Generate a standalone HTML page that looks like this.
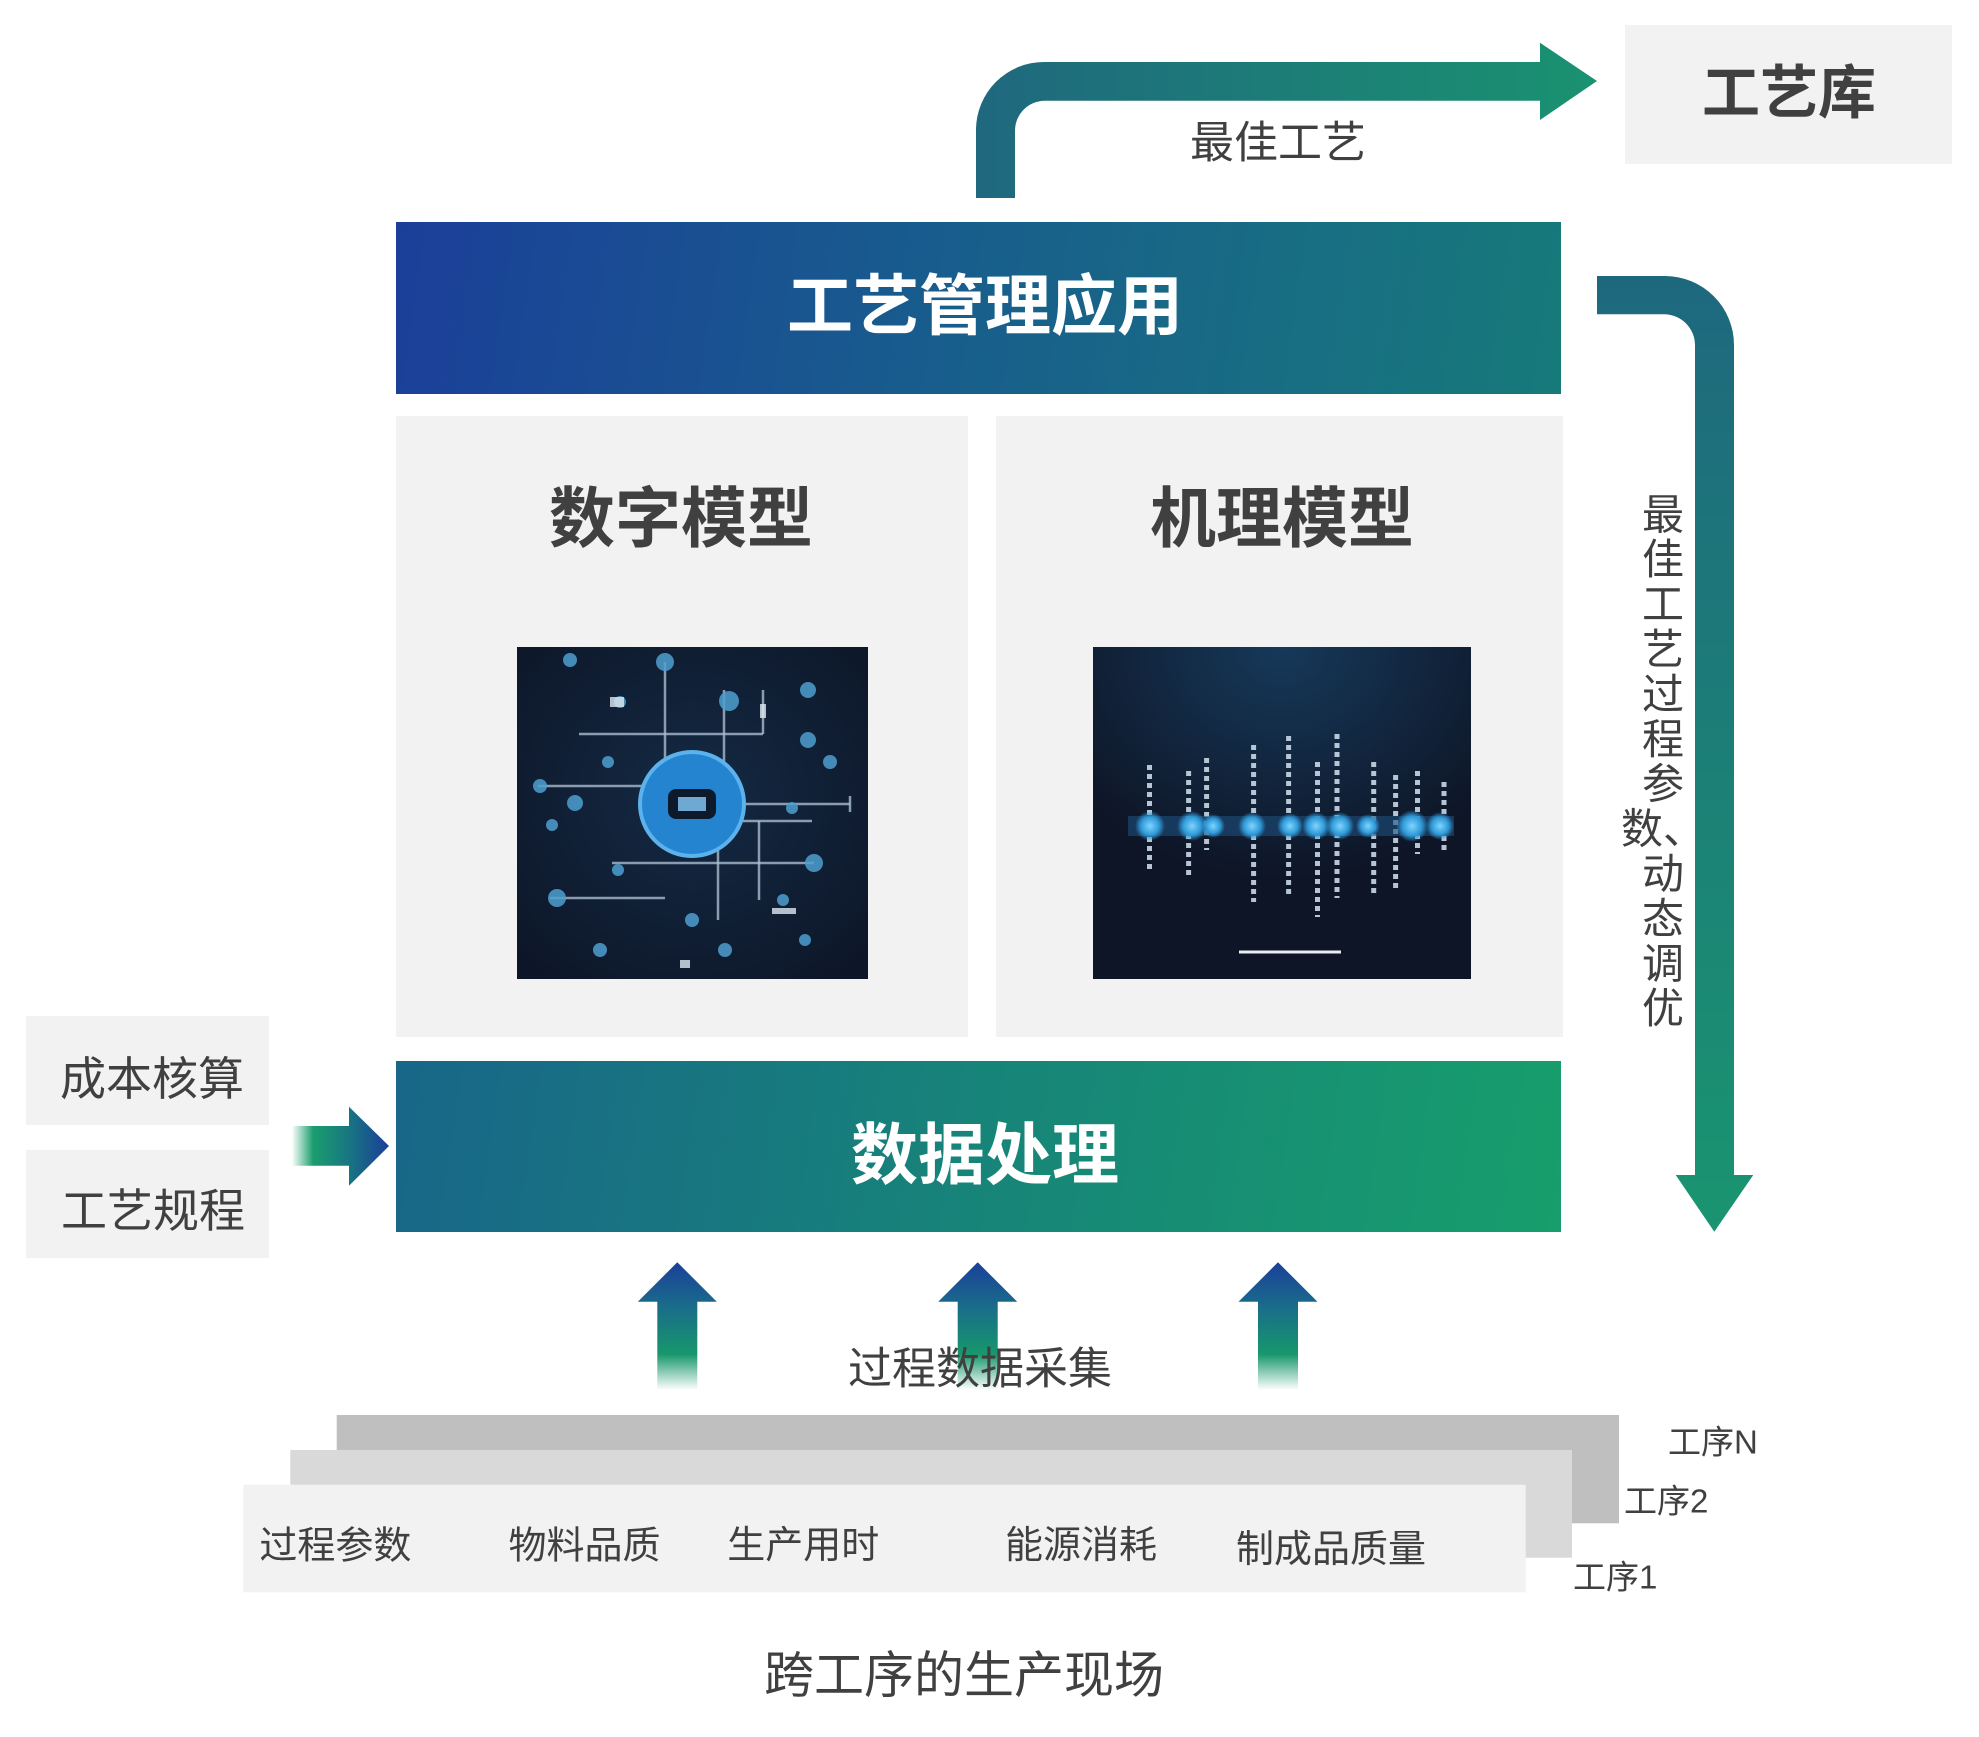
<!DOCTYPE html>
<html>
<head>
<meta charset="utf-8">
<style>
html,body{margin:0;padding:0;background:#fff;}
body{width:1979px;height:1737px;overflow:hidden;}
svg{display:block;}
text{font-family:"Liberation Sans","Noto Sans CJK SC",sans-serif;fill:#404040;}
.b{font-weight:700;}
</style>
</head>
<body>
<svg width="1979" height="1737" viewBox="0 0 1979 1737" xmlns="http://www.w3.org/2000/svg">
<defs>
  <linearGradient id="gTop" gradientUnits="userSpaceOnUse" x1="396" y1="222" x2="1561" y2="394">
    <stop offset="0" stop-color="#1b3f99"/>
    <stop offset="0.5" stop-color="#185f8c"/>
    <stop offset="1" stop-color="#177a7a"/>
  </linearGradient>
  <linearGradient id="gData" gradientUnits="userSpaceOnUse" x1="396" y1="1061" x2="1561" y2="1232">
    <stop offset="0" stop-color="#186688"/>
    <stop offset="0.5" stop-color="#178479"/>
    <stop offset="1" stop-color="#179e6c"/>
  </linearGradient>
  <linearGradient id="gArrTop" gradientUnits="userSpaceOnUse" x1="976" y1="0" x2="1597" y2="0">
    <stop offset="0" stop-color="#1f687e"/>
    <stop offset="1" stop-color="#1a9270"/>
  </linearGradient>
  <linearGradient id="gArrRight" gradientUnits="userSpaceOnUse" x1="0" y1="276" x2="0" y2="1232">
    <stop offset="0" stop-color="#1e687e"/>
    <stop offset="1" stop-color="#1a9570"/>
  </linearGradient>
  <linearGradient id="gArrLeft" gradientUnits="userSpaceOnUse" x1="291.7" y1="0" x2="389" y2="0">
    <stop offset="0" stop-color="#1aa06c" stop-opacity="0"/>
    <stop offset="0.22" stop-color="#1a9e6e"/>
    <stop offset="0.6" stop-color="#187482"/>
    <stop offset="1" stop-color="#1b3e9a"/>
  </linearGradient>
  <linearGradient id="gUp" gradientUnits="userSpaceOnUse" x1="0" y1="1262" x2="0" y2="1390">
    <stop offset="0" stop-color="#1b3f9a"/>
    <stop offset="0.35" stop-color="#196c8a"/>
    <stop offset="0.72" stop-color="#18976c"/>
    <stop offset="1" stop-color="#18976c" stop-opacity="0"/>
  </linearGradient>
  <radialGradient id="gGlow" cx="0.5" cy="0" r="0.7">
    <stop offset="0" stop-color="#16395a"/>
    <stop offset="1" stop-color="#0e1526"/>
  </radialGradient>
  <radialGradient id="gGlowL" cx="0.5" cy="0.45" r="0.7">
    <stop offset="0" stop-color="#142a44"/>
    <stop offset="1" stop-color="#0d1628"/>
  </radialGradient>
  <radialGradient id="gDot" cx="0.5" cy="0.5" r="0.5">
    <stop offset="0" stop-color="#7fd4ff"/>
    <stop offset="0.6" stop-color="#2f9ad8"/>
    <stop offset="1" stop-color="#2f9ad8" stop-opacity="0"/>
  </radialGradient>
</defs>

<!-- 工艺库 box -->
<rect x="1625" y="25" width="327" height="139" fill="#f2f2f2"/>
<text x="1789" y="113" font-size="58" text-anchor="middle" class="b">工艺库</text>

<!-- top bent arrow -->
<path d="M 976 198 L 976 130 A 68 68 0 0 1 1044 62 L 1540 62 L 1540 42.7 L 1597 81 L 1540 120 L 1540 100.7 L 1045 100.7 A 30 30 0 0 0 1015 130.7 L 1015 198 Z" fill="url(#gArrTop)"/>
<text x="1278" y="157.5" font-size="44" text-anchor="middle">最佳工艺</text>

<!-- 工艺管理应用 -->
<rect x="396" y="222" width="1165" height="172" fill="url(#gTop)"/>
<text x="985" y="329" font-size="66" text-anchor="middle" class="b" style="fill:#fff">工艺管理应用</text>

<!-- right bent arrow -->
<path d="M 1597 276 L 1665 276 A 69 69 0 0 1 1734 345 L 1734 1175 L 1753.3 1175 L 1714.3 1231.7 L 1675.7 1175 L 1695 1175 L 1695 345.3 A 31 31 0 0 0 1664 314.3 L 1597 314.3 Z" fill="url(#gArrRight)"/>

<!-- vertical text -->
<g font-size="42" text-anchor="middle">
  <text x="1663" y="529.3">最</text>
  <text x="1663" y="574.2">佳</text>
  <text x="1663" y="619.1">工</text>
  <text x="1663" y="664">艺</text>
  <text x="1663" y="708.9">过</text>
  <text x="1663" y="753.8">程</text>
  <text x="1663" y="798.7">参</text>
  <text x="1663" y="843.6">数、</text>
  <text x="1663" y="888.5">动</text>
  <text x="1663" y="933.4">态</text>
  <text x="1663" y="978.3">调</text>
  <text x="1663" y="1023.2">优</text>
</g>

<!-- model boxes -->
<rect x="396" y="416" width="572" height="621" fill="#f2f2f2"/>
<rect x="996" y="416" width="567" height="621" fill="#f2f2f2"/>
<text x="681" y="541.6" font-size="66" text-anchor="middle" class="b">数字模型</text>
<text x="1282" y="541.6" font-size="66" text-anchor="middle" class="b">机理模型</text>

<!-- left image (digital model) -->
<g>
  <rect x="517" y="647" width="351" height="332" fill="url(#gGlowL)"/>
  <g stroke="#a9bccd" stroke-width="2.5" stroke-opacity="0.8" fill="none">
    <line x1="665" y1="662" x2="665" y2="770"/>
    <line x1="579" y1="734" x2="763" y2="734"/>
    <line x1="724" y1="690" x2="724" y2="780"/>
    <line x1="763" y1="690" x2="763" y2="734"/>
    <line x1="538" y1="786" x2="642" y2="786"/>
    <line x1="740" y1="804" x2="850" y2="804"/>
    <line x1="850" y1="796" x2="850" y2="812"/>
    <line x1="740" y1="821" x2="812" y2="821"/>
    <line x1="612" y1="863" x2="814" y2="863"/>
    <line x1="759" y1="821" x2="759" y2="900"/>
    <line x1="550" y1="898" x2="665" y2="898"/>
    <line x1="718" y1="850" x2="718" y2="920"/>
  </g>
  <circle cx="692" cy="804" r="52" fill="#2584cf" stroke="#5cb2ec" stroke-width="4"/>
  <rect x="668" y="789" width="48" height="30" rx="8" fill="#0d1a2c"/>
  <rect x="678" y="797" width="28" height="14" fill="#6fa9d3"/>
  <g fill="#4e9fd0" fill-opacity="0.85">
    <circle cx="570" cy="660" r="7"/><circle cx="665" cy="662" r="9"/><circle cx="729" cy="701" r="10"/>
    <circle cx="808" cy="690" r="8"/><circle cx="808" cy="740" r="8"/><circle cx="830" cy="762" r="7"/>
    <circle cx="540" cy="786" r="7"/><circle cx="575" cy="803" r="8"/><circle cx="552" cy="825" r="6"/>
    <circle cx="814" cy="863" r="9"/><circle cx="557" cy="898" r="9"/><circle cx="618" cy="870" r="6"/>
    <circle cx="692" cy="920" r="7"/><circle cx="600" cy="950" r="7"/><circle cx="725" cy="950" r="7"/>
    <circle cx="805" cy="940" r="6"/><circle cx="783" cy="900" r="6"/><circle cx="608" cy="762" r="6"/>
    <circle cx="792" cy="808" r="6"/><circle cx="620" cy="702" r="6"/>
  </g>
  <g fill="#dfe9f2" fill-opacity="0.8">
    <rect x="610" y="697" width="14" height="10"/><rect x="760" y="704" width="6" height="14"/>
    <rect x="772" y="908" width="24" height="6"/><rect x="680" y="960" width="10" height="8"/>
  </g>
</g>

<!-- right image (mechanism model) -->
<g>
  <rect x="1093" y="647" width="378" height="332" fill="url(#gGlow)"/>
  <g stroke="#c9d8e6" stroke-width="5" stroke-dasharray="5 4" fill="none" stroke-opacity="0.9">
    <line x1="1149.5" y1="765" x2="1149.5" y2="869"/>
    <line x1="1188.6" y1="771" x2="1188.6" y2="876"/>
    <line x1="1206.6" y1="758" x2="1206.6" y2="850"/>
    <line x1="1253.6" y1="745" x2="1253.6" y2="902"/>
    <line x1="1288.6" y1="736" x2="1288.6" y2="898"/>
    <line x1="1317.5" y1="762" x2="1317.5" y2="917"/>
    <line x1="1337" y1="734" x2="1337" y2="898"/>
    <line x1="1373.7" y1="762" x2="1373.7" y2="893"/>
    <line x1="1395.6" y1="775" x2="1395.6" y2="889"/>
    <line x1="1417.5" y1="771" x2="1417.5" y2="854"/>
    <line x1="1444" y1="782" x2="1444" y2="854"/>
  </g>
  <rect x="1128" y="816" width="326" height="20" fill="#1d4f7d" fill-opacity="0.6"/>
  <g fill="url(#gDot)">
    <circle cx="1150" cy="826" r="15"/><circle cx="1192" cy="826" r="15"/><circle cx="1213" cy="826" r="12"/>
    <circle cx="1252" cy="826" r="14"/><circle cx="1290" cy="826" r="13"/><circle cx="1316" cy="826" r="14"/>
    <circle cx="1340" cy="826" r="14"/><circle cx="1368" cy="826" r="12"/><circle cx="1412" cy="826" r="16"/>
    <circle cx="1440" cy="826" r="14"/>
  </g>
  <line x1="1239" y1="952" x2="1341" y2="952" stroke="#e8eef4" stroke-width="3"/>
</g>

<!-- 数据处理 -->
<rect x="396" y="1061" width="1165" height="171" fill="url(#gData)"/>
<text x="985" y="1178.5" font-size="67" text-anchor="middle" class="b" style="fill:#fff">数据处理</text>

<!-- left side boxes -->
<rect x="26" y="1016" width="243" height="109" fill="#f2f2f2"/>
<rect x="26" y="1150" width="243" height="108" fill="#f2f2f2"/>
<text x="152" y="1095" font-size="46" text-anchor="middle">成本核算</text>
<text x="153" y="1226.8" font-size="46" text-anchor="middle">工艺规程</text>
<path d="M 291.7 1126 L 349 1126 L 349 1106.7 L 389 1146 L 349 1185.7 L 349 1165.7 L 291.7 1165.7 Z" fill="url(#gArrLeft)"/>

<!-- up arrows -->
<path d="M 677.3 1262.3 L 716.8 1301.7 L 697.3 1301.7 L 697.3 1390 L 657.3 1390 L 657.3 1301.7 L 637.8 1301.7 Z" fill="url(#gUp)"/>
<path d="M 977.7 1262.3 L 1017.2 1301.7 L 997.7 1301.7 L 997.7 1390 L 957.7 1390 L 957.7 1301.7 L 938.2 1301.7 Z" fill="url(#gUp)"/>
<path d="M 1278 1262.3 L 1317.5 1301.7 L 1298 1301.7 L 1298 1390 L 1258 1390 L 1258 1301.7 L 1238.5 1301.7 Z" fill="url(#gUp)"/>
<text x="980" y="1383.7" font-size="44" text-anchor="middle">过程数据采集</text>

<!-- process layers -->
<rect x="336.7" y="1415" width="1282.3" height="108.3" fill="#bfbfbf"/>
<rect x="290.3" y="1450" width="1281.7" height="107.7" fill="#d9d9d9"/>
<rect x="243.3" y="1484.7" width="1282.4" height="107.6" fill="#f2f2f2"/>
<g font-size="38" text-anchor="middle">
  <text x="335.4" y="1558.7">过程参数</text>
  <text x="584.5" y="1558.7">物料品质</text>
  <text x="803.3" y="1558.2">生产用时</text>
  <text x="1081" y="1558.2">能源消耗</text>
  <text x="1331" y="1562">制成品质量</text>
</g>
<g font-size="33">
  <text x="1668" y="1453.5">工序N</text>
  <text x="1624" y="1512.5">工序2</text>
  <text x="1573" y="1588.5">工序1</text>
</g>

<text x="964" y="1692.3" font-size="50" text-anchor="middle">跨工序的生产现场</text>
</svg>
</body>
</html>
